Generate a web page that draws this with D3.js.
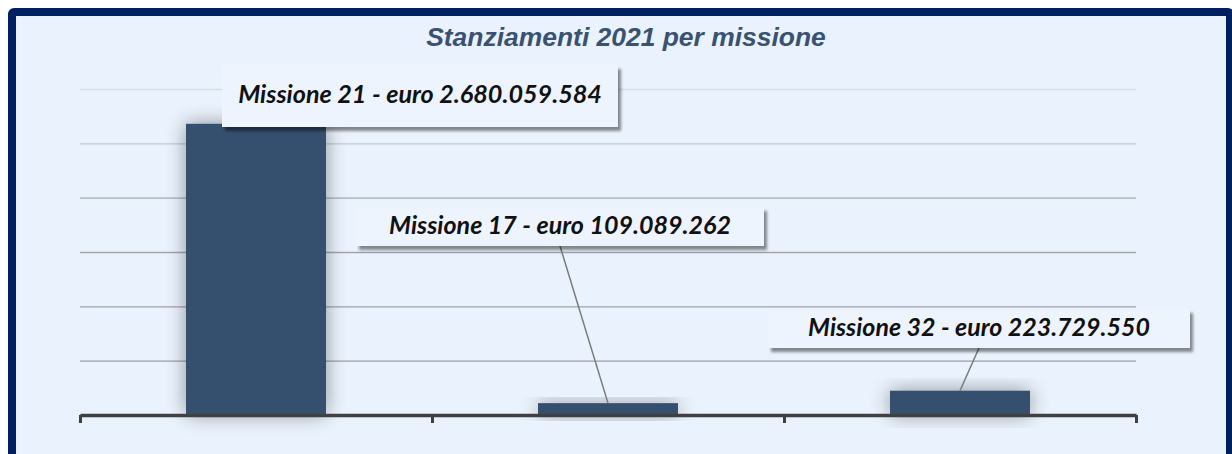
<!DOCTYPE html>
<html>
<head>
<meta charset="utf-8">
<script src="https://cdn.jsdelivr.net/npm/d3@7"></script>
<style>
  html, body { margin: 0; padding: 0; background: #ffffff; }
  svg { display: block; }
</style>
</head>
<body>
<svg id="chart" width="1232" height="454"></svg>
<script>
// ---- data ----
const chartTitle = "Stanziamenti 2021 per missione";
const categories = ["Missione 21", "Missione 17", "Missione 32"];
const values = [2680059584, 109089262, 223729550];
const labelTexts = [
  "Missione 21 - euro 2.680.059.584",
  "Missione 17 - euro 109.089.262",
  "Missione 32 - euro 223.729.550"
];
const yTickValues = [0, 500000000, 1000000000, 1500000000, 2000000000, 2500000000, 3000000000];

// ---- layout ----
const W = 1232, H = 454;
const plot = { left: 80, right: 1136, top: 89, bottom: 415 };
// label box layout (relative to bar centre), as placed in the original
const labelLayout = [
  { dx: 164, cy: 96,  w: 396, h: 62, textW: 364 },
  { dx: -48, cy: 226.5, w: 408, h: 39, textW: 342 },
  { dx: 19,  cy: 328.5, w: 422, h: 39, textW: 342 }
];

const svg = d3.select("#chart");
const defs = svg.append("defs");

// bar glow shadow
const glow = defs.append("filter").attr("id", "glow")
  .attr("x", "-50%").attr("y", "-50%").attr("width", "200%").attr("height", "200%");
glow.append("feGaussianBlur").attr("in", "SourceAlpha").attr("stdDeviation", 10).attr("result", "b");
glow.append("feComponentTransfer").attr("in", "b").attr("result", "bo")
  .append("feFuncA").attr("type", "linear").attr("slope", 0.4);
const gm = glow.append("feMerge");
gm.append("feMergeNode").attr("in", "bo");
gm.append("feMergeNode").attr("in", "SourceGraphic");

// label box drop shadow
const ds = defs.append("filter").attr("id", "ds")
  .attr("x", "-10%").attr("y", "-40%").attr("width", "120%").attr("height", "200%");
ds.append("feGaussianBlur").attr("in", "SourceAlpha").attr("stdDeviation", 1.8).attr("result", "b");
ds.append("feOffset").attr("in", "b").attr("dx", 3).attr("dy", 3.5).attr("result", "o");
ds.append("feComponentTransfer").attr("in", "o").attr("result", "oo")
  .append("feFuncA").attr("type", "linear").attr("slope", 0.45);
const dm = ds.append("feMerge");
dm.append("feMergeNode").attr("in", "oo");
dm.append("feMergeNode").attr("in", "SourceGraphic");

// ---- frame ----
svg.append("rect")
  .attr("x", 12).attr("y", 12).attr("width", 1218).attr("height", 470)
  .attr("rx", 2)
  .attr("fill", "#eaf2fd")
  .attr("stroke", "#002060")
  .attr("stroke-width", 8);

// ---- scales ----
const x = d3.scaleBand()
  .domain(categories)
  .range([plot.left, plot.right])
  .paddingInner(0.6023)
  .paddingOuter(0.30115);

const xEdge = d3.scaleLinear().domain([0, categories.length]).range([plot.left, plot.right]);

const y = d3.scaleLinear().domain([0, 3000000000]).range([plot.bottom, plot.top]);

// ---- gridlines ----
const gridColor = d3.scaleLinear()
  .domain([3000000000, 2500000000, 2000000000, 0])
  .range(["#d6dce4", "#c3c9d1", "#a6a9ae", "#9a9a9a"]);

const grid = svg.append("g")
  .attr("transform", `translate(${plot.left},0)`)
  .call(d3.axisLeft(y).tickValues(yTickValues.filter(v => v > 0))
    .tickSize(-(plot.right - plot.left)).tickFormat(""));
grid.select(".domain").remove();
grid.selectAll(".tick line")
  .attr("stroke", d => gridColor(d))
  .attr("stroke-width", 1.3);

// ---- bars ----
svg.append("g").selectAll("rect")
  .data(values)
  .join("rect")
  .attr("x", (d, i) => x(categories[i]))
  .attr("y", d => y(d))
  .attr("width", x.bandwidth())
  .attr("height", d => y(0) - y(d))
  .attr("fill", "#35506e")
  .attr("filter", "url(#glow)");

// ---- x axis ----
const axis = svg.append("g")
  .attr("transform", `translate(0,${plot.bottom})`)
  .call(d3.axisBottom(xEdge)
    .tickValues(d3.range(categories.length + 1))
    .tickFormat("")
    .tickSize(8)
    .tickSizeOuter(0));
axis.select(".domain").attr("stroke", "#404040").attr("stroke-width", 3.5);
axis.selectAll(".tick line").attr("stroke", "#404040").attr("stroke-width", 3);

// ---- title ----
const title = svg.append("text")
  .attr("x", 626).attr("y", 46)
  .attr("text-anchor", "middle")
  .attr("font-family", "'Liberation Sans', Arial, sans-serif")
  .attr("font-weight", "bold")
  .attr("font-style", "italic")
  .attr("font-size", 22)
  .attr("fill", "#3a5272")
  .text(chartTitle);
const tw0 = title.node().getComputedTextLength();
title.attr("font-size", 22 * 400 / tw0);

// ---- data labels ----
const lg = svg.append("g");
values.forEach((v, i) => {
  const L = labelLayout[i];
  const bx = x(categories[i]) + x.bandwidth() / 2;
  const by = y(v);
  const cx = bx + L.dx;
  const boxTop = L.cy - L.h / 2, boxBottom = L.cy + L.h / 2;

  if (boxBottom < by - 4) {
    lg.append("line")
      .attr("x1", cx).attr("y1", boxBottom)
      .attr("x2", bx).attr("y2", by)
      .attr("stroke", "#7a7a7a").attr("stroke-width", 1.5);
  }
  lg.append("rect")
    .attr("x", cx - L.w / 2).attr("y", boxTop)
    .attr("width", L.w).attr("height", L.h)
    .attr("fill", "#eef4fd")
    .attr("filter", "url(#ds)");

  const t = lg.append("text")
    .attr("x", cx).attr("y", L.cy + 7)
    .attr("text-anchor", "middle")
    .attr("font-family", "Lato, 'Open Sans', sans-serif")
    .attr("font-weight", "bold")
    .attr("font-style", "italic")
    .attr("font-size", 20)
    .attr("fill", "#111111")
    .text(labelTexts[i]);
  const w0 = t.node().getComputedTextLength();
  t.attr("font-size", 20 * L.textW / w0);
});
</script>
</body>
</html>
